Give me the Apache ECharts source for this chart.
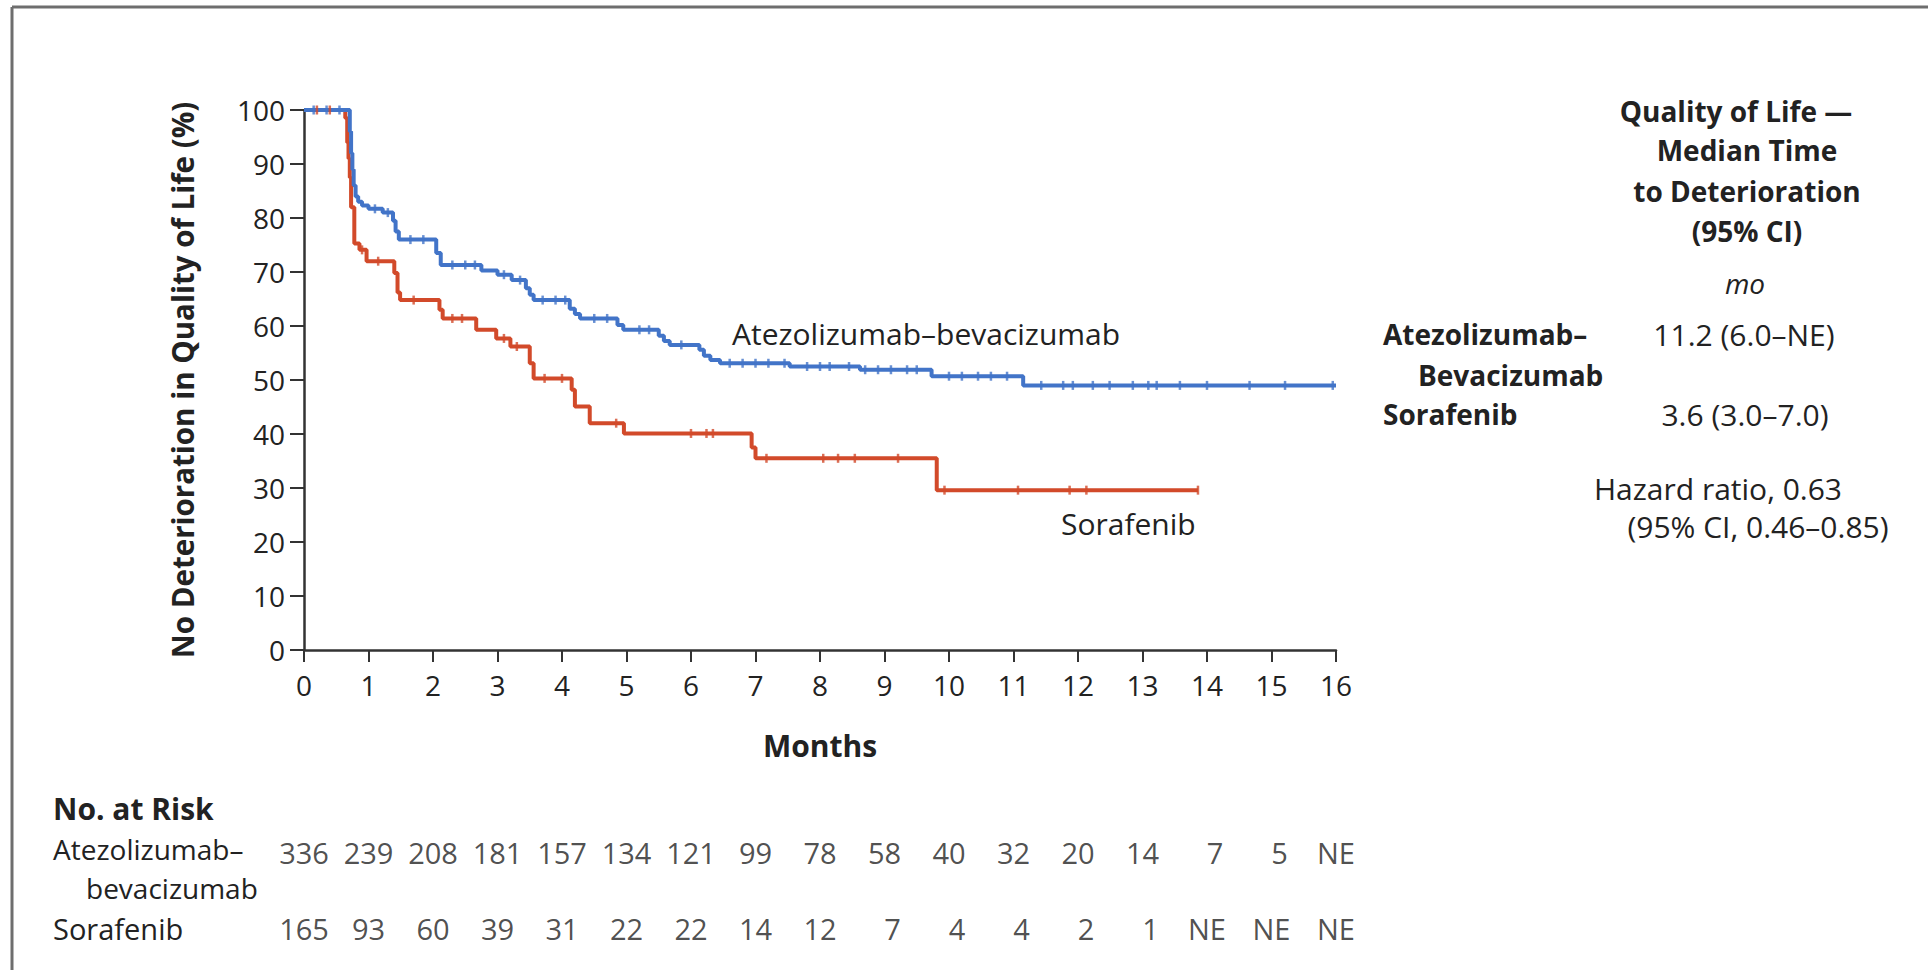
<!DOCTYPE html>
<html>
<head>
<meta charset="utf-8">
<script src="https://cdn.jsdelivr.net/npm/echarts@6/dist/echarts.min.js"></script>
<style>
  html, body { margin: 0; padding: 0; background: #fff; }
  #chart { width: 1928px; height: 970px; }
</style>
</head>
<body>
<div id="chart"></div>
<script>
// ---------------- DATA ----------------
const xTicks = [0,1,2,3,4,5,6,7,8,9,10,11,12,13,14,15,16];
const yTicks = [0,10,20,30,40,50,60,70,80,90,100];

// Atezolizumab–bevacizumab KM steps (months, % no deterioration)
const atezoTimes = [0, 0.71, 0.73, 0.75, 0.77, 0.80, 0.84, 0.90, 1.0, 1.22, 1.38, 1.42, 1.47, 2.05, 2.12, 2.75, 3.0, 3.22, 3.44, 3.50, 3.56, 4.12, 4.2, 4.28, 4.86, 4.95, 5.5, 5.58, 5.67, 6.13, 6.2, 6.3, 6.45, 7.53, 8.62, 9.73, 11.15, 16];
const atezoValues = [100, 96, 92, 89, 86, 84, 83, 82.3, 81.7, 81, 79.5, 77.5, 76, 73.5, 71.3, 70.3, 69.5, 68.5, 67, 65.8, 64.8, 63.2, 62.2, 61.4, 60.2, 59.3, 58.2, 57.2, 56.5, 55.6, 54.5, 53.7, 53.1, 52.5, 51.9, 50.7, 49, 49];
const atezoCensor = [0.15, 0.35, 0.55, 1.1, 1.3, 1.65, 1.85, 2.3, 2.5, 2.65, 3.1, 3.35, 3.7, 3.9, 4.05, 4.5, 4.7, 5.2, 5.35, 5.85, 6.6, 6.8, 7.0, 7.2, 7.45, 7.8, 8.0, 8.15, 8.45, 8.7, 8.9, 9.1, 9.35, 9.5, 10.0, 10.2, 10.45, 10.65, 10.9, 11.43, 11.77, 11.92, 12.23, 12.49, 12.85, 13.09, 13.22, 13.58, 14.0, 14.66, 15.21, 15.95];

// Sorafenib KM steps
const soraTimes = [0, 0.64, 0.67, 0.69, 0.71, 0.73, 0.78, 0.86, 0.97, 1.40, 1.45, 1.49, 2.10, 2.15, 2.67, 2.98, 3.20, 3.50, 3.56, 4.15, 4.20, 4.43, 4.96, 6.94, 7.0, 9.81, 13.86];
const soraValues = [100, 98.5, 94, 91, 87.5, 82, 75.3, 74.1, 72, 69.8, 66.2, 64.8, 63, 61.4, 59.3, 57.7, 56.2, 53.1, 50.3, 48.2, 45.1, 42, 40.1, 37.5, 35.5, 29.6, 29.6];
const soraCensor = [0.2, 0.4, 0.9, 1.15, 1.7, 2.3, 2.45, 3.1, 3.3, 3.73, 4.0, 4.84, 6.0, 6.24, 6.34, 7.17, 8.05, 8.28, 8.54, 9.21, 9.93, 11.07, 11.87, 12.13, 13.86];

// Number at risk
const atRiskMonths = [0,1,2,3,4,5,6,7,8,9,10,11,12,13,14,15,16];
const atRiskAtezo = ['336','239','208','181','157','134','121','99','78','58','40','32','20','14','7','5','NE'];
const atRiskSora  = ['165','93','60','39','31','22','22','14','12','7','4','4','2','1','NE','NE','NE'];

// ---------------- STYLE ----------------
const FONT = '"Open Sans", "Noto Sans", sans-serif';
const BLUE = '#4274c8';
const RED = '#d24a2a';
const TXT = '#222';
const AX = '#333';

function stepAt(times, vals, t) {
  let v = vals[0];
  for (let i = 0; i < times.length; i++) { if (times[i] <= t) v = vals[i]; }
  return v;
}
const atezoLine = atezoTimes.map((t, i) => [t, atezoValues[i]]);
const soraLine = soraTimes.map((t, i) => [t, soraValues[i]]);
const atezoCens = atezoCensor.map(t => [t, stepAt(atezoTimes, atezoValues, t)]);
const soraCens = soraCensor.map(t => [t, stepAt(soraTimes, soraValues, t)]);

// single-digit counts sit like right-aligned two-digit numbers
function riskItem(m, row, s) {
  return { value: [m, row, s], label: { offset: [s.length === 1 ? 8 : 0, 0] } };
}
const riskRowAtezo = atRiskMonths.map((m, i) => riskItem(m, 1, atRiskAtezo[i]));
const riskRowSora = atRiskMonths.map((m, i) => riskItem(m, 0, atRiskSora[i]));

const chart = echarts.init(document.getElementById('chart'), null, { renderer: 'svg' });

function txt(text, x, y, opts) {
  return {
    type: 'text', silent: true,
    style: Object.assign({
      text: text, x: x, y: y,
      fill: TXT, fontFamily: FONT, fontSize: 30, lineHeight: 30,
      align: 'left', verticalAlign: 'middle'
    }, opts || {})
  };
}

const riskLabel = {
  show: true,
  position: 'inside',
  align: 'center',
  verticalAlign: 'middle',
  fontFamily: FONT,
  fontSize: 29,
  color: TXT,
  formatter: p => p.value[2]
};

chart.setOption({
  animation: false,
  backgroundColor: '#fff',
  grid: [
    { left: 304, right: 592, top: 110, bottom: 320, containLabel: false },
    { left: 304, right: 592, top: 852, height: 76, containLabel: false }
  ],
  xAxis: [
    {
      gridIndex: 0, type: 'value', min: 0, max: 16, interval: 1,
      name: 'Months', nameLocation: 'middle', nameGap: 80,
      nameTextStyle: { fontFamily: FONT, fontSize: 30, fontWeight: 'bold', color: TXT },
      axisLine: { show: true, lineStyle: { color: AX, width: 2.5 } },
      axisTick: { show: true, length: 12, lineStyle: { color: AX, width: 2 } },
      axisLabel: { margin: 21, fontFamily: FONT, fontSize: 28, color: TXT,
        formatter: v => xTicks.includes(v) ? String(v) : '' },
      splitLine: { show: false }
    },
    { gridIndex: 1, type: 'value', min: 0, max: 16, show: false }
  ],
  yAxis: [
    {
      gridIndex: 0, type: 'value', min: 0, max: 100, interval: 10,
      name: 'No Deterioration in Quality of Life (%)', nameLocation: 'middle', nameGap: 107,
      nameTextStyle: { fontFamily: FONT, fontSize: 29.5, fontWeight: 'bold', color: TXT },
      axisLine: { show: true, lineStyle: { color: AX, width: 2.5 } },
      axisTick: { show: true, length: 14, lineStyle: { color: AX, width: 2 } },
      axisLabel: { margin: 19, fontFamily: FONT, fontSize: 28, color: TXT,
        formatter: v => yTicks.includes(v) ? String(v) : '' },
      splitLine: { show: false }
    },
    { gridIndex: 1, type: 'value', min: 0, max: 1, show: false }
  ],
  series: [
    {
      name: 'Sorafenib', type: 'line', step: 'end', xAxisIndex: 0, yAxisIndex: 0,
      data: soraLine, showSymbol: false, lineStyle: { color: RED, width: 4 }, z: 3
    },
    {
      name: 'Atezolizumab–bevacizumab', type: 'line', step: 'end', xAxisIndex: 0, yAxisIndex: 0,
      data: atezoLine, showSymbol: false, lineStyle: { color: BLUE, width: 4 }, z: 4
    },
    {
      type: 'scatter', xAxisIndex: 0, yAxisIndex: 0, data: soraCens,
      symbol: 'rect', symbolSize: [2.5, 9], itemStyle: { color: RED }, z: 5
    },
    {
      type: 'scatter', xAxisIndex: 0, yAxisIndex: 0, data: atezoCens,
      symbol: 'rect', symbolSize: [2.5, 9], itemStyle: { color: BLUE }, z: 6
    },
    {
      type: 'scatter', xAxisIndex: 1, yAxisIndex: 1, data: riskRowAtezo,
      symbolSize: 0, itemStyle: { color: 'rgba(0,0,0,0)' }, label: riskLabel
    },
    {
      type: 'scatter', xAxisIndex: 1, yAxisIndex: 1, data: riskRowSora,
      symbolSize: 0, itemStyle: { color: 'rgba(0,0,0,0)' }, label: riskLabel
    }
  ],
  graphic: [
    // frame lines (top and left)
    { type: 'line', silent: true, shape: { x1: 12, y1: 7, x2: 1928, y2: 7 }, style: { stroke: '#6e6e6e', lineWidth: 3 } },
    { type: 'line', silent: true, shape: { x1: 12, y1: 7, x2: 12, y2: 970 }, style: { stroke: '#6e6e6e', lineWidth: 3 } },

    // curve annotations
    txt('Atezolizumab–bevacizumab', 732, 333),
    txt('Sorafenib', 1061, 523),

    // right panel
    txt('Quality of Life —', 1736, 111, { align: 'center', fontWeight: 'bold', fontSize: 28 }),
    txt('Median Time', 1747, 150, { align: 'center', fontWeight: 'bold', fontSize: 28 }),
    txt('to Deterioration', 1747, 191, { align: 'center', fontWeight: 'bold', fontSize: 28 }),
    txt('(95% CI)', 1747, 231, { align: 'center', fontWeight: 'bold', fontSize: 28 }),
    txt('mo', 1745, 283, { align: 'center', fontStyle: 'italic', fontSize: 28 }),
    txt('Atezolizumab–', 1383, 334, { fontWeight: 'bold', fontSize: 28 }),
    txt('Bevacizumab', 1418, 375, { fontWeight: 'bold', fontSize: 28 }),
    txt('Sorafenib', 1383, 414, { fontWeight: 'bold', fontSize: 28 }),
    txt('11.2 (6.0–NE)', 1744, 334, { align: 'center' }),
    txt('3.6 (3.0–7.0)', 1745, 414, { align: 'center' }),
    txt('Hazard ratio, 0.63', 1718, 488, { align: 'center' }),
    txt('(95% CI, 0.46–0.85)', 1758, 526, { align: 'center' }),

    // number at risk labels
    txt('No. at Risk', 53, 808, { fontWeight: 'bold' }),
    txt('Atezolizumab–', 53, 849, { fontSize: 28, lineHeight: 28 }),
    txt('bevacizumab', 86, 888, { fontSize: 28, lineHeight: 28 }),
    txt('Sorafenib', 53, 928, { fontSize: 29, lineHeight: 29 })
  ]
});
</script>
</body>
</html>
